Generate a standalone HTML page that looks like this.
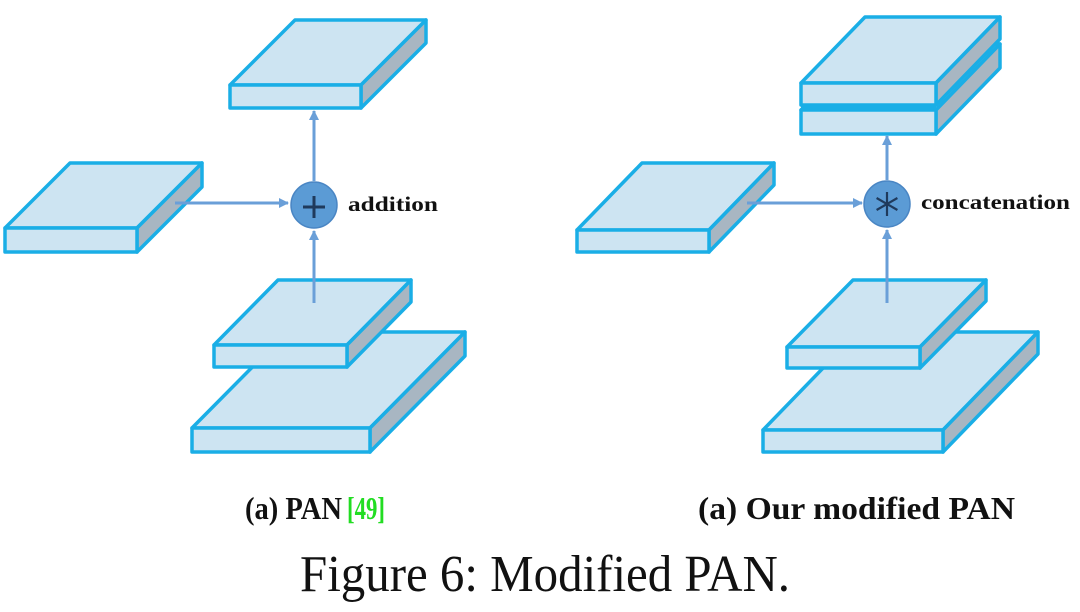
<!DOCTYPE html>
<html><head><meta charset="utf-8"><style>
html,body{margin:0;padding:0;background:#fff;width:1080px;height:612px;overflow:hidden}
text{font-family:"Liberation Serif",serif}
</style></head><body>
<svg width="1080" height="612" viewBox="0 0 1080 612" xmlns="http://www.w3.org/2000/svg">
<defs>
<marker id="ah" markerWidth="10" markerHeight="10" refX="9" refY="5" orient="auto" markerUnits="userSpaceOnUse">
<path d="M0,0 L10,5 L0,10 z" fill="#6a9fd8"/>
</marker>
</defs>
<g stroke="#1aaee6" stroke-width="3.5" stroke-linejoin="round">
<polygon points="230,85 295,20 426,20 361,85" fill="#cde4f2"/>
<polygon points="361,85 426,20 426,43 361,108" fill="#a8b6c2"/>
<rect x="230" y="85" width="131" height="23" fill="#cde4f2"/>
<polygon points="5,228 70,163 202,163 137,228" fill="#cde4f2"/>
<polygon points="137,228 202,163 202,187 137,252" fill="#a8b6c2"/>
<rect x="5" y="228" width="132" height="24" fill="#cde4f2"/>
<polygon points="192,428 287,332 465,332 370,428" fill="#cde4f2"/>
<polygon points="370,428 465,332 465,356 370,452" fill="#a8b6c2"/>
<rect x="192" y="428" width="178" height="24" fill="#cde4f2"/>
<polygon points="214,345 278,280 411,280 347,345" fill="#cde4f2"/>
<polygon points="347,345 411,280 411,302 347,367" fill="#a8b6c2"/>
<rect x="214" y="345" width="133" height="22" fill="#cde4f2"/>

<polygon points="801,110 865,44 1000,44 936,110" fill="#cde4f2"/>
<polygon points="936,110 1000,44 1000,68 936,134" fill="#a8b6c2"/>
<rect x="801" y="110" width="135" height="24" fill="#cde4f2"/>
<polygon points="801,83 865,17 1000,17 936,83" fill="#cde4f2"/>
<polygon points="936,83 1000,17 1000,39 936,105" fill="#a8b6c2"/>
<rect x="801" y="83" width="135" height="22" fill="#cde4f2"/>
<line x1="801" y1="107.5" x2="936" y2="107.5" stroke-width="5"/>
<polygon points="577,230 642,163 774,163 709,230" fill="#cde4f2"/>
<polygon points="709,230 774,163 774,185 709,252" fill="#a8b6c2"/>
<rect x="577" y="230" width="132" height="22" fill="#cde4f2"/>
<polygon points="763,430 858,332 1038,332 943,430" fill="#cde4f2"/>
<polygon points="943,430 1038,332 1038,354 943,452" fill="#a8b6c2"/>
<rect x="763" y="430" width="180" height="22" fill="#cde4f2"/>
<polygon points="787,347 853,280 986,280 920,347" fill="#cde4f2"/>
<polygon points="920,347 986,280 986,301 920,368" fill="#a8b6c2"/>
<rect x="787" y="347" width="133" height="21" fill="#cde4f2"/>
</g>

<g stroke="#6a9fd8" stroke-width="3" fill="none">
<line x1="175" y1="203" x2="288" y2="203" marker-end="url(#ah)"/>
<line x1="314" y1="303" x2="314" y2="231" marker-end="url(#ah)"/>
<line x1="314" y1="181" x2="314" y2="111" marker-end="url(#ah)"/>
<line x1="747" y1="203" x2="862" y2="203" marker-end="url(#ah)"/>
<line x1="887" y1="303" x2="887" y2="230" marker-end="url(#ah)"/>
<line x1="887" y1="180" x2="887" y2="136" marker-end="url(#ah)"/>
</g>

<circle cx="314" cy="205" r="23" fill="#5b9bd5" stroke="#4a86c4" stroke-width="1.5"/>
<g stroke="#1f3a5c" stroke-width="3">
<line x1="303" y1="207" x2="325" y2="207"/>
<line x1="314" y1="196" x2="314" y2="218"/>
</g>
<circle cx="887" cy="204" r="23" fill="#5b9bd5" stroke="#4a86c4" stroke-width="1.5"/>
<g stroke="#1f3a5c" stroke-width="2.2">
<line x1="887" y1="192" x2="887" y2="216"/>
<line x1="876.6" y1="198" x2="897.4" y2="210"/>
<line x1="876.6" y1="210" x2="897.4" y2="198"/>
</g>

<g font-weight="bold" fill="#111">
<text x="348" y="211" font-size="21" textLength="90" lengthAdjust="spacingAndGlyphs">addition</text>
<text x="921" y="209" font-size="21" textLength="149" lengthAdjust="spacingAndGlyphs">concatenation</text>
<text x="245" y="519" font-size="32" textLength="97" lengthAdjust="spacingAndGlyphs">(a) PAN</text>
<text x="347" y="519" font-size="32" fill="#22dd22" textLength="38" lengthAdjust="spacingAndGlyphs">[49]</text>
<text x="698" y="519" font-size="32" textLength="317" lengthAdjust="spacingAndGlyphs">(a) Our modified PAN</text>
</g>
<text x="300" y="591" font-size="52" fill="#111" textLength="490" lengthAdjust="spacingAndGlyphs">Figure 6: Modified PAN.</text>
</svg>
</body></html>
